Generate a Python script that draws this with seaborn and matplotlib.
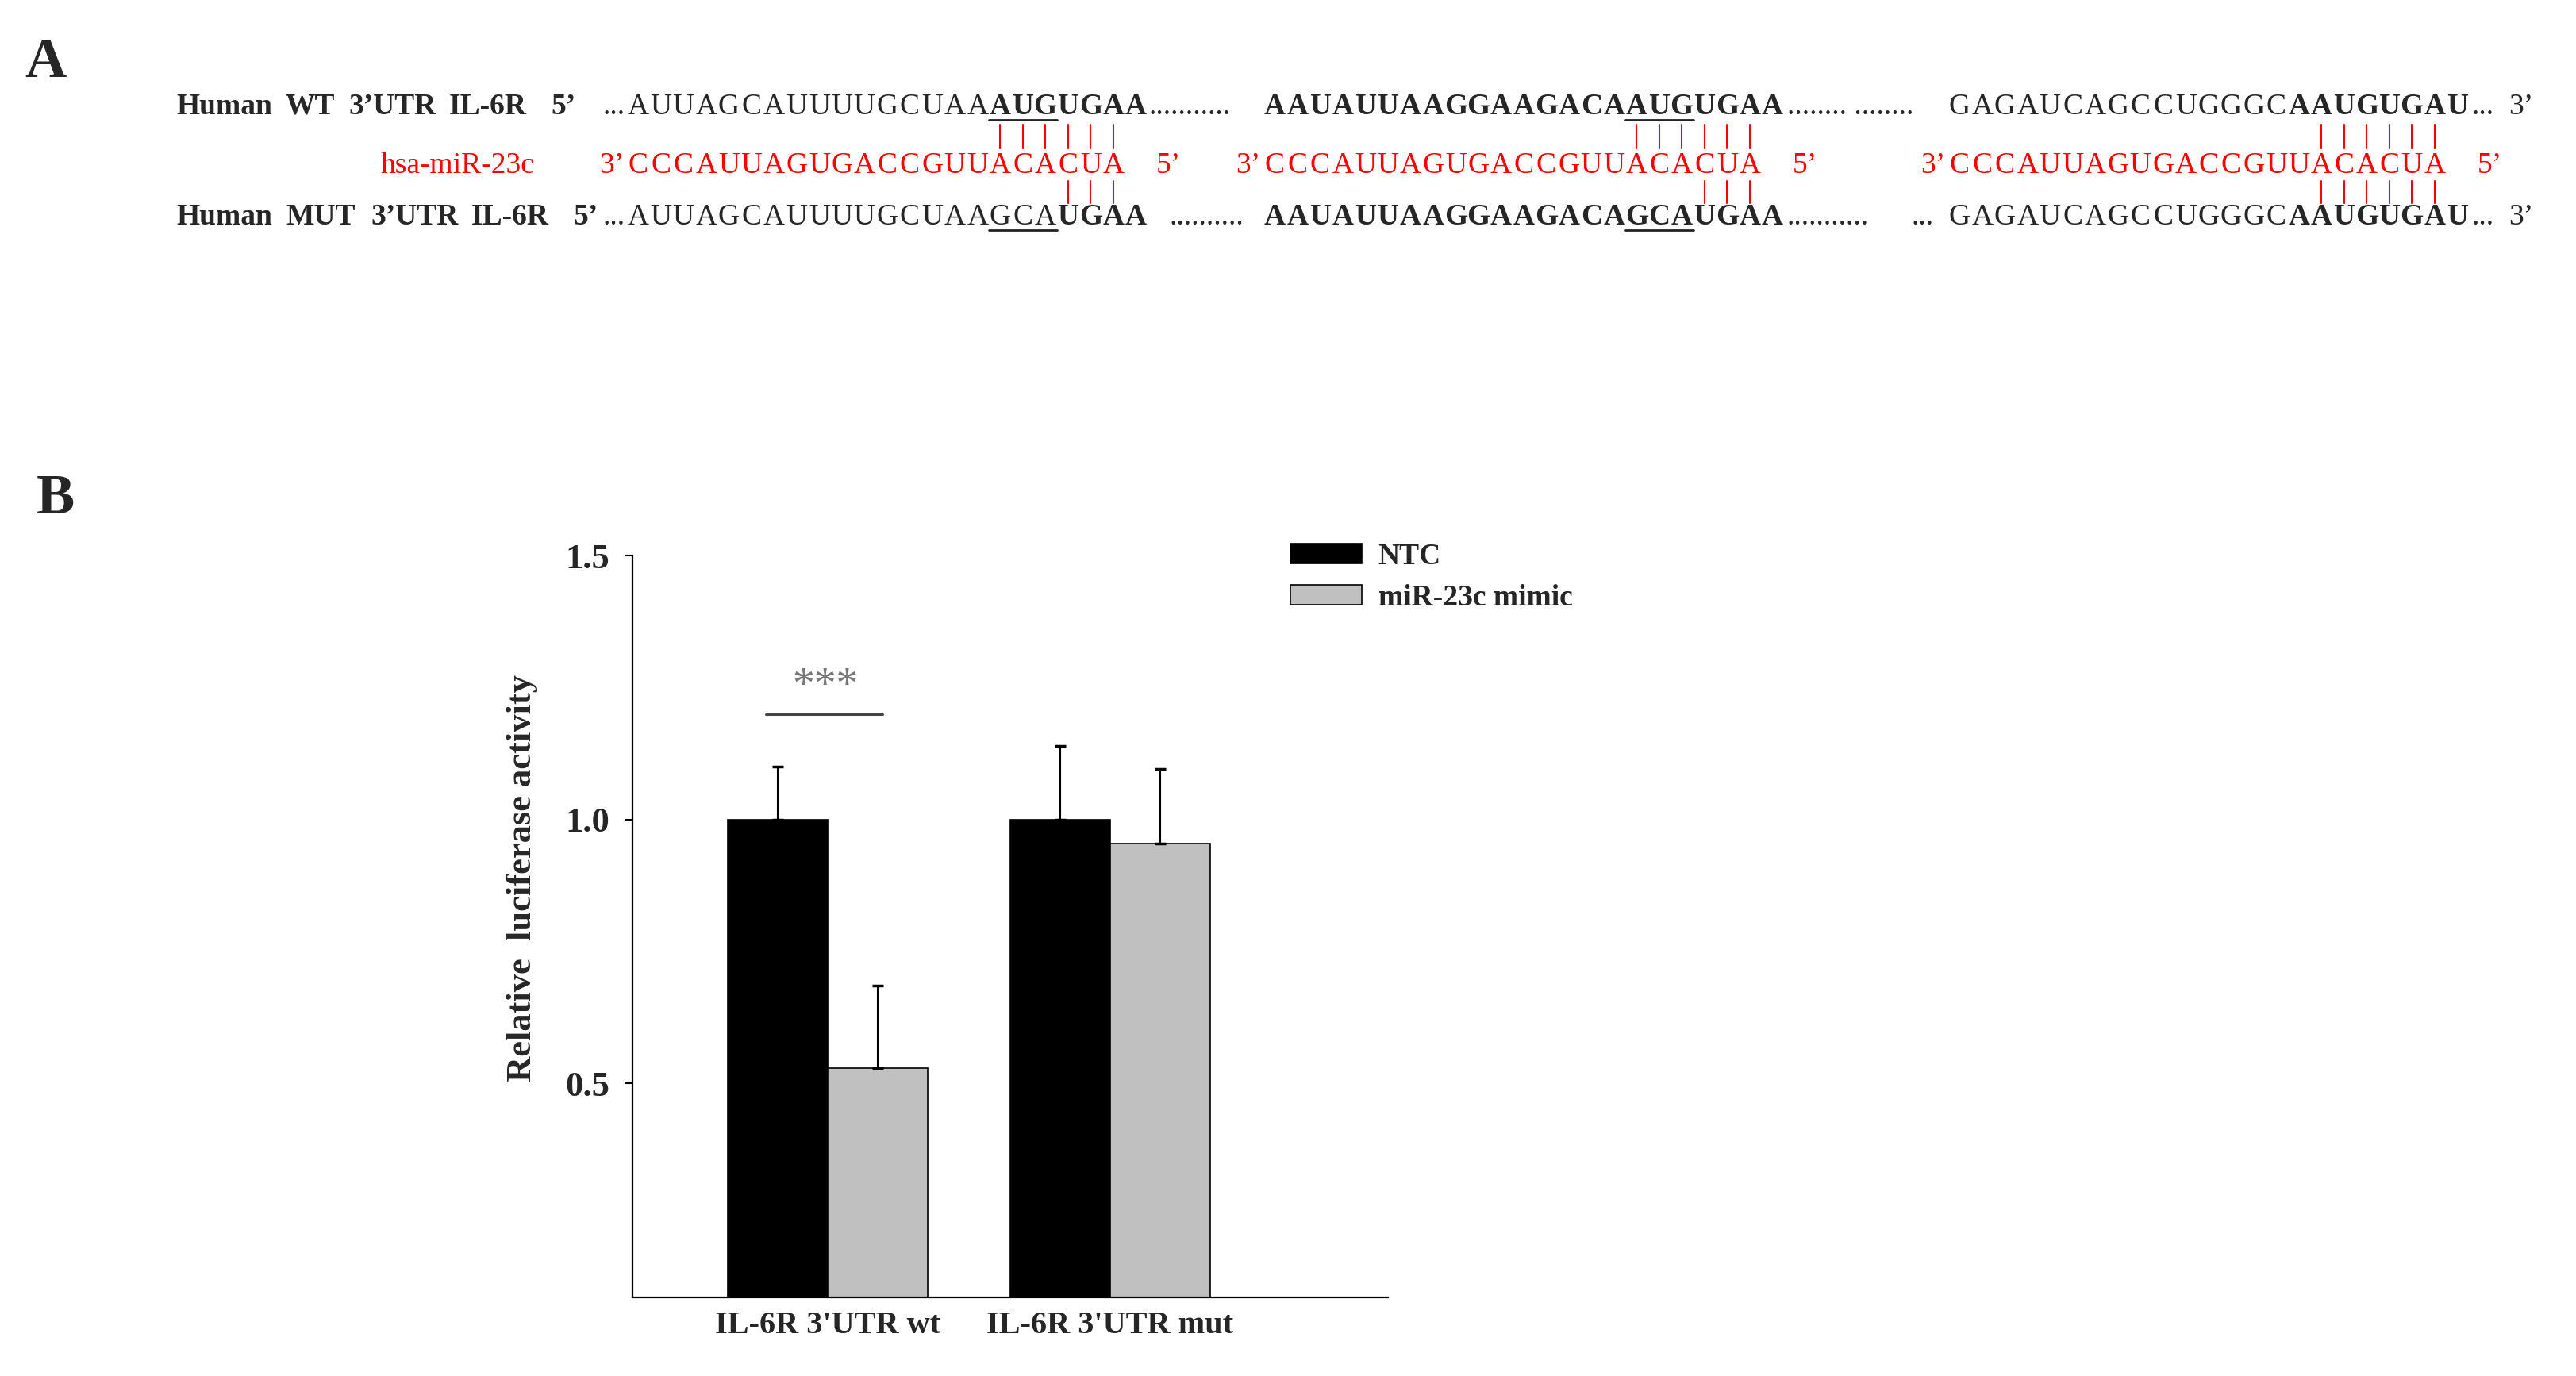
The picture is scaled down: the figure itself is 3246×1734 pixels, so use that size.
import matplotlib
matplotlib.use("Agg")
import pandas as pd
import matplotlib.pyplot as plt
import seaborn as sns

# ---- Panel B data: relative luciferase activity ----
constructs = ["IL-6R 3'UTR wt", "IL-6R 3'UTR mut"]
treatments = ["NTC", "miR-23c mimic"]
ntc_mean = [1.00, 1.00]
ntc_err = [0.10, 0.14]
mimic_mean = [0.53, 0.955]
mimic_err = [0.155, 0.141]
sig_label = "***"
sig_level = 1.20

# ---- Panel A data: target sites and miRNA ----
wt_sites = ["AUUAGCAUUUUGCUAAAUGUGAA",
            "AAUAUUAAGGAAGACAAUGUGAA",
            "GAGAUCAGCCUGGGCAAUGUGAU"]
mut_sites = ["AUUAGCAUUUUGCUAAGCAUGAA",
             "AAUAUUAAGGAAGACAGCAUGAA",
             "GAGAUCAGCCUGGGCAAUGUGAU"]
mirna_name = "hsa-miR-23c"
mirna_seq = "CCCAUUAGUGACCGUUACACUA"
wt_pairs = [[16, 17, 18, 19, 20, 21],
            [16, 17, 18, 19, 20, 21],
            [16, 17, 18, 19, 20, 21]]
mut_pairs = [[19, 20, 21],
             [19, 20, 21],
             [16, 17, 18, 19, 20, 21]]
underlined = [(16, 19), (16, 19), None]
wt_bold_from = [16, 0, 15]
mut_bold_from = [19, 0, 15]
wt_words = ["Human", "WT", "3\u2019UTR", "IL-6R", "5\u2019"]
mut_words = ["Human", "MUT", "3\u2019UTR", "IL-6R", "5\u2019"]

sns.set_theme(style="ticks")
plt.rcParams["font.family"] = ["Liberation Serif", "DejaVu Serif"]

W, H = 3246, 1734
fig = plt.figure(figsize=(W / 100, H / 100), dpi=100)

# pixel canvas for panel A and panel letters
canvas = fig.add_axes([0, 0, 1, 1])
canvas.set_xlim(0, W)
canvas.set_ylim(H, 0)
canvas.axis("off")

canvas.text(31, 97, "A", fontsize=52, fontweight="bold", va="baseline")
canvas.text(46, 647, "B", fontsize=52, fontweight="bold", va="baseline")

pitch = 28.5
site_x0 = [790, 1592, 2455]
y_wt, y_mir, y_mut = 144, 218, 283
seq_fs = 27

for word, x in zip(wt_words, [222, 360, 439, 566, 694]):
    canvas.text(x, y_wt, word, fontsize=27, fontweight="bold", va="baseline")
for word, x in zip(mut_words, [222, 360, 467, 594, 722]):
    canvas.text(x, y_mut, word, fontsize=27, fontweight="bold", va="baseline")
canvas.text(480, y_mir, mirna_name, fontsize=27, color="red", va="baseline")

def cx(k, i):
    return site_x0[k] + pitch * (i + 0.5)

for k in range(3):
    x0 = site_x0[k]
    for i, ch in enumerate(wt_sites[k]):
        canvas.text(cx(k, i), y_wt, ch, fontsize=seq_fs, ha="center", va="baseline",
                    fontweight="bold" if i >= wt_bold_from[k] else "normal")
    for i, ch in enumerate(mut_sites[k]):
        canvas.text(cx(k, i), y_mut, ch, fontsize=seq_fs, ha="center", va="baseline",
                    fontweight="bold" if i >= mut_bold_from[k] else "normal")
    for i, ch in enumerate(mirna_seq):
        canvas.text(cx(k, i), y_mir, ch, fontsize=seq_fs, ha="center", va="baseline",
                    color="red")
    canvas.text(x0 - 4, y_mir, "3\u2019", fontsize=seq_fs, ha="right", va="baseline", color="red")
    canvas.text(x0 + pitch * len(mirna_seq) + 40, y_mir, "5\u2019", fontsize=seq_fs,
                va="baseline", color="red")
    for i in wt_pairs[k]:
        canvas.plot([cx(k, i)] * 2, [157, 187], color="red", lw=1.5)
    for i in mut_pairs[k]:
        canvas.plot([cx(k, i)] * 2, [228, 256], color="red", lw=1.5)
    if underlined[k] is not None:
        a, b = underlined[k]
        for yy in (y_wt + 7, y_mut + 7):
            canvas.plot([x0 + pitch * a, x0 + pitch * b], [yy, yy], color="#222222", lw=2)

end = [x0 + pitch * 23 for x0 in site_x0]
# dotted gaps, WT row
canvas.text(site_x0[0] - 2, y_wt, "...", fontsize=seq_fs, ha="right", va="baseline")
canvas.text(end[0] + 2, y_wt, "...........", fontsize=seq_fs, va="baseline")
canvas.text(end[1] + 4, y_wt, "........ ........", fontsize=seq_fs, va="baseline")
canvas.text(end[2] + 4, y_wt, "...", fontsize=seq_fs, va="baseline")
canvas.text(3161, y_wt, "3\u2019", fontsize=seq_fs, va="baseline")
# dotted gaps, MUT row
canvas.text(site_x0[0] - 2, y_mut, "...", fontsize=seq_fs, ha="right", va="baseline")
canvas.text(end[0] + 28, y_mut, "..........", fontsize=seq_fs, va="baseline")
canvas.text(end[1] + 4, y_mut, "...........", fontsize=seq_fs, va="baseline")
canvas.text(site_x0[2] - 18, y_mut, "...", fontsize=seq_fs, ha="right", va="baseline")
canvas.text(end[2] + 4, y_mut, "...", fontsize=seq_fs, va="baseline")
canvas.text(3161, y_mut, "3\u2019", fontsize=seq_fs, va="baseline")

# ---- Panel B: bar chart ----
ax = fig.add_axes([797 / W, 1 - 1635 / H, (1749 - 797) / W, (1635 - 700) / H])
df = pd.DataFrame({
    "construct": constructs * 2,
    "treatment": [treatments[0]] * 2 + [treatments[1]] * 2,
    "activity": ntc_mean + mimic_mean,
})
sns.barplot(data=df, x="construct", y="activity", hue="treatment",
            palette=["#000000", "#c0c0c0"], width=0.708, edgecolor="black",
            linewidth=1.2, errorbar=None, ax=ax)

for cont, errs in zip(ax.containers, [ntc_err, mimic_err]):
    for bar, e in zip(cont, errs):
        xc = bar.get_x() + bar.get_width() / 2
        ax.errorbar(xc, bar.get_height(), yerr=[[0], [e]], fmt="none", ecolor="black",
                    elinewidth=1.5, capsize=5, capthick=2.5)

ax.set_xlim(-0.691, 1.983)
ax.set_ylim(0.095, 1.5)
ax.set_yticks([0.5, 1.0, 1.5])
ax.set_yticklabels(["0.5", "1.0", "1.5"], fontsize=32, fontweight="bold")
sns.despine(ax=ax)
for side in ("left", "bottom"):
    ax.spines[side].set_linewidth(1.6)
    ax.spines[side].set_color("black")
ax.tick_params(axis="y", length=7, width=1.5, pad=14, color="black")
ax.tick_params(axis="x", length=0, pad=12)
for lab in ax.get_xticklabels():
    lab.set_fontsize(29)
    lab.set_fontweight("bold")
ax.set_xlabel("")
ax.set_ylabel("Relative  luciferase activity", fontsize=32, fontweight="bold")
ax.yaxis.set_label_coords(-0.125, 0.565)

c = ax.get_xticks()[0]
ax.plot([c - 0.22, c + 0.195], [sig_level, sig_level], color="#444444", lw=2.2)
ax.text(c - 0.01, sig_level + 0.03, sig_label, ha="center", va="baseline",
        color="#777777", fontsize=40)

handles, labels = ax.get_legend_handles_labels()
ax.legend(handles, labels, loc="upper left", bbox_to_anchor=(1626 / W, 1 - 684 / H),
          bbox_transform=fig.transFigure, frameon=False,
          prop=dict(family="Liberation Serif", weight="bold", size=27),
          handlelength=2.4, handleheight=0.65, handletextpad=0.55,
          labelspacing=0.45, borderpad=0, borderaxespad=0)

fig.savefig("out.png", dpi=100)
